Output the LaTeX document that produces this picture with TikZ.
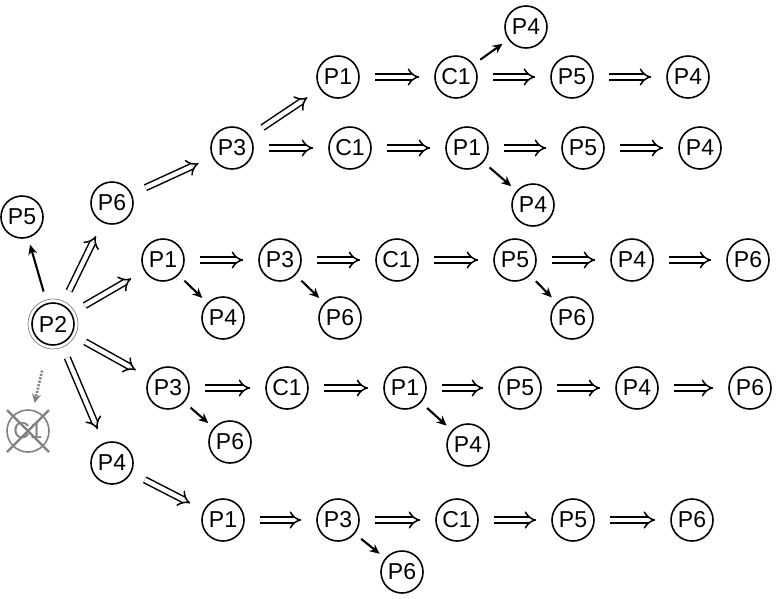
\documentclass[tikz,border=0pt]{standalone}
\usepackage{fontspec}
\setmainfont{Liberation Sans}
\usepackage{tikz}
\usetikzlibrary{arrows.meta}

\tikzset{
    proc/.style={circle, draw, line width=1.6pt, minimum size=42pt, inner sep=0pt,
        font=\fontsize{23}{26}\selectfont},
    dbl/.style={double, double distance=4.4pt, line width=1.5pt, -{Implies[scale=1.5]},
        shorten <=15pt, shorten >=15pt},
    sgl/.style={line width=2.1pt, -{Stealth[length=10pt, width=9pt]},
        shorten <=8pt, shorten >=7pt},
}

\begin{document}
\begin{tikzpicture}[x=1pt, y=-1pt]
    \useasboundingbox (0,0) rectangle (777,598);

    % start state and its neighbours
    \node[proc] (p2) at (53,324) {P2};
    \draw[gray, line width=0.7pt] (p2) circle (25pt);
    \node[proc] (p5) at (22,217) {P5};
    \node[proc] (p6) at (112,203) {P6};
    \node[proc] (p4) at (112,463) {P4};
    \node[proc, draw=gray, text=gray] (cx) at (28,431) {C1};
    \draw[gray, line width=2.2pt] (7,410) -- (49,452);
    \draw[gray, line width=2.2pt] (49,410) -- (7,452);

    % row 1
    \node[proc] (aP1) at (338,77) {P1};
    \node[proc] (aC1) at (456,77) {C1};
    \node[proc] (aP5) at (572,77) {P5};
    \node[proc] (aP4) at (688,77) {P4};
    \node[proc] (aX4) at (526,27) {P4};

    % row 2
    \node[proc] (bP3) at (232,148) {P3};
    \node[proc] (bC1) at (350,148) {C1};
    \node[proc] (bP1) at (467,148) {P1};
    \node[proc] (bP5) at (583,148) {P5};
    \node[proc] (bP4) at (700,148) {P4};
    \node[proc] (bX4) at (533,205) {P4};

    % row 3
    \node[proc] (cP1) at (163,260) {P1};
    \node[proc] (cP3) at (280,260) {P3};
    \node[proc] (cC1) at (397,260) {C1};
    \node[proc] (cP5) at (515,260) {P5};
    \node[proc] (cP4) at (632,260) {P4};
    \node[proc] (cP6) at (748,260) {P6};
    \node[proc] (cX4) at (223,318) {P4};
    \node[proc] (cX6) at (340,318) {P6};
    \node[proc] (cY6) at (572,318) {P6};

    % row 4
    \node[proc] (dP3) at (168,388) {P3};
    \node[proc] (dC1) at (287,388) {C1};
    \node[proc] (dP1) at (405,388) {P1};
    \node[proc] (dP5) at (520,388) {P5};
    \node[proc] (dP4) at (637,388) {P4};
    \node[proc] (dP6) at (750,388) {P6};
    \node[proc] (dX6) at (230,442) {P6};
    \node[proc] (dX4) at (468,445) {P4};

    % row 5
    \node[proc] (eP1) at (223,520) {P1};
    \node[proc] (eP3) at (338,520) {P3};
    \node[proc] (eC1) at (457,520) {C1};
    \node[proc] (eP5) at (573,520) {P5};
    \node[proc] (eP6) at (692,520) {P6};
    \node[proc] (eX6) at (402,572) {P6};

    \foreach \a/\b in {p2/p6, p2/cP1, p2/dP3, p2/p4, p6/bP3, bP3/aP1, p4/eP1,
        aP1/aC1, aC1/aP5, aP5/aP4,
        bP3/bC1, bC1/bP1, bP1/bP5, bP5/bP4,
        cP1/cP3, cP3/cC1, cC1/cP5, cP5/cP4, cP4/cP6,
        dP3/dC1, dC1/dP1, dP1/dP5, dP5/dP4, dP4/dP6,
        eP1/eP3, eP3/eC1, eC1/eP5, eP5/eP6} {
        \draw[dbl] (\a) -- (\b);
    }

    \foreach \a/\b in {aC1/aX4, bP1/bX4, cP1/cX4, cP3/cX6, cP5/cY6,
        dP3/dX6, dP1/dX4, eP3/eX6} {
        \draw[sgl] (\a) -- (\b);
    }
    \draw[sgl, shorten <=12pt] (p2) -- (p5);
    \draw[gray, line width=2.6pt, dash pattern=on 2pt off 1.5pt,
        -{Stealth[length=9pt, width=9pt]}, shorten <=26pt, shorten >=7pt] (p2) -- (cx);
\end{tikzpicture}
\end{document}
